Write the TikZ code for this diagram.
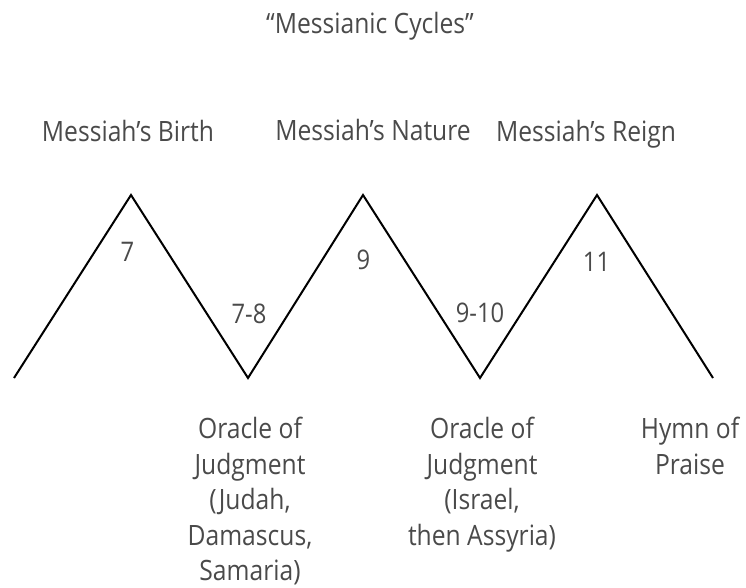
\documentclass[tikz,border=0pt]{standalone}
\usepackage{fontspec}
\setmainfont{Open Sans}[FakeStretch=0.88]
\usepackage{tikz}
\usetikzlibrary{positioning}
\definecolor{inkgrey}{HTML}{4A4A4A}

\begin{document}
\begin{tikzpicture}[x=1pt,y=-1pt,
  lbl/.style={text=inkgrey,font=\fontsize{28}{35.5}\selectfont,align=center,inner sep=0pt},
  num/.style={text=inkgrey,font=\fontsize{27}{30}\selectfont,inner sep=0pt},
  zig/.style={line width=2pt,line join=miter}]
  \useasboundingbox (0,0) rectangle (746,588);
  % zigzag corners
  \coordinate (s)  at (14,378);
  \coordinate (p1) at (131,195);
  \coordinate (v1) at (248,378);
  \coordinate (p2) at (363,195);
  \coordinate (v2) at (480,378);
  \coordinate (p3) at (597,195);
  \coordinate (e)  at (713,378);
  \draw[zig] (s) -- (p1) -- (v1) -- (p2) -- (v2) -- (p3) -- (e);
  % titles
  \node[lbl,anchor=base] (title) at (370,34) {“Messianic Cycles”};
  \node[lbl,anchor=base] (birth) at (128,142) {Messiah’s Birth};
  \node[lbl,anchor=base] (nature) at (373,141) {Messiah’s Nature};
  \node[lbl,anchor=base] (reign) at (586,142) {Messiah’s Reign};
  % chapters
  \node[num] (c7) at (127.5,252) {7};
  \node[num] (c78) at (249,314) {7-8};
  \node[num] (c9) at (363.5,260) {9};
  \node[num] (c910) at (480,313) {9-10};
  \node[num] (c11) at (596.5,262) {11};
  % below the valleys
  \node[lbl,anchor=north] (judah) at (250,417) {Oracle of\\Judgment\\(Judah,\\Damascus,\\Samaria)};
  \node[lbl,anchor=north] (israel) at (482,417) {Oracle of\\Judgment\\(Israel,\\then Assyria)};
  \node[lbl,anchor=north] (hymn) at (690,417) {Hymn of\\Praise};
\end{tikzpicture}
\end{document}
